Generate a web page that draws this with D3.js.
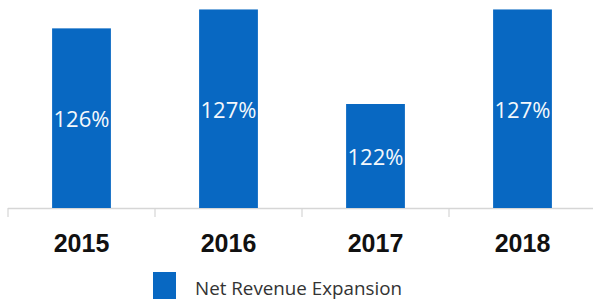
<!DOCTYPE html>
<html>
<head>
<meta charset="utf-8">
<script src="https://cdn.jsdelivr.net/npm/d3@7"></script>
<style>
  html, body { margin: 0; padding: 0; background: #ffffff; }
  svg { display: block; }
</style>
</head>
<body>
<svg id="chart" width="593" height="303"></svg>
<script>
const categories = ["2015", "2016", "2017", "2018"];
const values = [126, 127, 122, 127];
const valueLabels = ["126%", "127%", "122%", "127%"];
const seriesName = "Net Revenue Expansion";

const W = 593, H = 303;
const baseY = 208;
const svg = d3.select("#chart");

const x = d3.scaleBand()
  .domain(categories)
  .range([8, 596])
  .paddingInner(0.6)
  .paddingOuter(0.3);

const y = d3.scaleLinear()
  .domain([116.5, 127.5])
  .range([baseY, 0]);

const barColor = "#0868c2";

// Axis line and boundary ticks
const gap = (x.step() - x.bandwidth()) / 2;
const boundaries = categories.map(c => x(c) - gap).concat([x(categories[categories.length - 1]) + x.bandwidth() + gap]);

svg.append("line")
  .attr("x1", 8).attr("x2", W)
  .attr("y1", baseY + 0.5).attr("y2", baseY + 0.5)
  .attr("stroke", "#d6d6d6").attr("stroke-width", 1.5);

svg.selectAll("line.tick")
  .data(boundaries)
  .join("line")
  .attr("class", "tick")
  .attr("x1", d => d).attr("x2", d => d)
  .attr("y1", baseY).attr("y2", baseY + 9)
  .attr("stroke", "#d6d6d6").attr("stroke-width", 1.2);

// Bars
svg.selectAll("rect.bar")
  .data(values)
  .join("rect")
  .attr("class", "bar")
  .attr("x", (d, i) => x(categories[i]))
  .attr("width", x.bandwidth())
  .attr("y", d => y(d))
  .attr("height", d => baseY - y(d))
  .attr("fill", barColor);

// Value labels
svg.selectAll("text.val")
  .data(values)
  .join("text")
  .attr("class", "val")
  .attr("x", (d, i) => x(categories[i]) + x.bandwidth() / 2)
  .attr("y", d => (y(d) + baseY) / 2 + 9)
  .attr("text-anchor", "middle")
  .attr("font-family", "'Open Sans', 'Noto Sans', sans-serif")
  .attr("font-size", 22)
  .attr("fill", "#f4f8fc")
  .text((d, i) => valueLabels[i]);

// Category labels
svg.selectAll("text.cat")
  .data(categories)
  .join("text")
  .attr("class", "cat")
  .attr("x", d => x(d) + x.bandwidth() / 2)
  .attr("y", 252)
  .attr("text-anchor", "middle")
  .attr("font-family", "'Liberation Sans', Arial, sans-serif")
  .attr("font-weight", "bold")
  .attr("font-size", 25)
  .attr("fill", "#111111")
  .text(d => d);

// Legend
const lg = svg.append("g").attr("transform", "translate(153,272)");
lg.append("rect").attr("width", 23).attr("height", 27).attr("fill", barColor);
lg.append("text")
  .attr("x", 42).attr("y", 23)
  .attr("font-family", "'Open Sans', 'Noto Sans', sans-serif")
  .attr("font-size", 18)
  .attr("textLength", 207)
  .attr("lengthAdjust", "spacingAndGlyphs")
  .attr("fill", "#333333")
  .text(seriesName);
</script>
</body>
</html>
